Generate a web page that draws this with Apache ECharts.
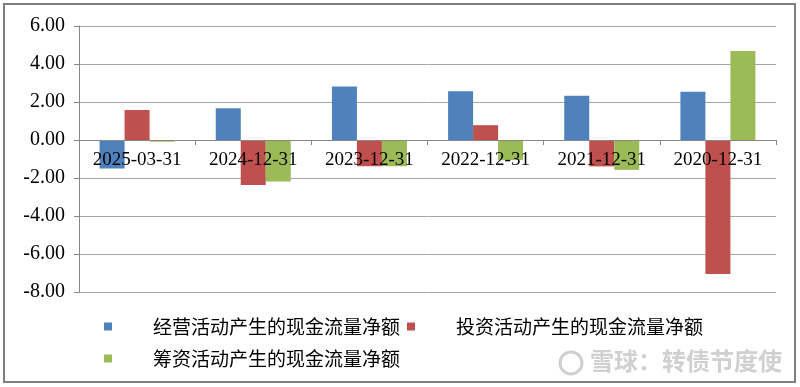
<!DOCTYPE html>
<html><head><meta charset="utf-8">
<script src="https://cdn.jsdelivr.net/npm/echarts@6/dist/echarts.min.js"></script>
<style>html,body{margin:0;padding:0;background:#fff}#c{width:800px;height:387px}</style>
</head><body><div id="c"></div>
<script>
const categories = ['2025-03-31','2024-12-31','2023-12-31','2022-12-31','2021-12-31','2020-12-31'];
const seriesNames = ['经营活动产生的现金流量净额','投资活动产生的现金流量净额','筹资活动产生的现金流量净额'];
const operating = [-1.50, 1.67, 2.82, 2.57, 2.33, 2.54];
const investing = [1.58, -2.37, -1.38, 0.78, -1.39, -7.05];
const financing = [-0.09, -2.18, -1.38, -1.06, -1.57, 4.68];
const colors = ['#4F81BD','#C0504D','#9BBB59'];

const chart = echarts.init(document.getElementById('c'), null, {renderer:'canvas'});
const numFont = '"Liberation Serif", serif';
const cjkFont = '"Noto Sans CJK SC", sans-serif';
const gridTop = 26, gridBottom = 95, H = 387;
function legendAt(name, left, top){
  return {data:[{name:name, icon:'rect'}], left:left, top:top, itemWidth:8, itemHeight:8, padding:0,
    textStyle:{fontFamily:cjkFont, fontSize:19, color:'#000', padding:[0,0,0,36]}};
}
chart.setOption({
  animation:false,
  color: colors,
  grid:{left:79, right:24, top:gridTop, bottom:gridBottom},
  legend:[legendAt(seriesNames[0],104,317), legendAt(seriesNames[1],407,317), legendAt(seriesNames[2],104,349)],
  xAxis:{type:'category', data:categories, z:10, position:'bottom',
    axisLine:{show:true, onZero:false, lineStyle:{color:'#888', width:1}},
    axisTick:{show:true, length:5, lineStyle:{color:'#888'}},
    axisLabel:{fontFamily:numFont, fontSize:19, color:'#000', margin:11, interval:0}},
  yAxis:{type:'value', min:-8, max:6, interval:2,
    axisLine:{show:true, onZero:false, lineStyle:{color:'#888'}},
    axisTick:{show:true, length:5, lineStyle:{color:'#888'}},
    splitLine:{lineStyle:{color:'#a6a6a6'}},
    axisLabel:{fontFamily:numFont, fontSize:20, color:'#000', margin:14, formatter:v=>v.toFixed(2)}},
  series:[
    {name:seriesNames[0], type:'bar', data:operating, barWidth:25, barGap:'0%'},
    {name:seriesNames[1], type:'bar', data:investing, barWidth:25, barGap:'0%'},
    {name:seriesNames[2], type:'bar', data:financing, barWidth:25, barGap:'0%'}
  ],
  graphic:[
    {type:'rect', shape:{x:4, y:4, width:791, height:378}, style:{fill:'none', stroke:'#7f7f7f', lineWidth:2}, silent:true},
    {type:'circle', shape:{cx:571, cy:363, r:11}, style:{fill:'none', stroke:'#cfcfcf', lineWidth:3}, silent:true},
    {type:'text', left:590, top:349, style:{text:'雪球：转债节度使', font:'bold 24px "Noto Sans CJK SC", sans-serif', fill:'#d0d0d0'}, silent:true}
  ]
});
// move the category axis up to the value-axis zero line
const zeroY = chart.convertToPixel({yAxisIndex:0}, 0);
const bottomY = H - gridBottom;
chart.setOption({xAxis:{offset: zeroY - bottomY}});
</script></body></html>
